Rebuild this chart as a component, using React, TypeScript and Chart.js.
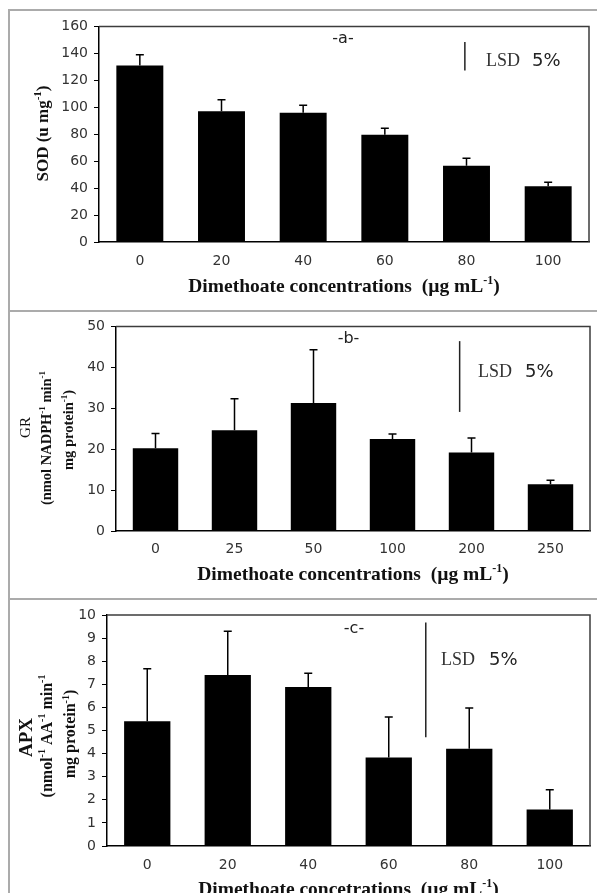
import React, { useEffect, useRef } from "react";
import { Chart, registerables } from "chart.js";

Chart.register(...registerables);

// ---------- data ----------
const sodLabels = ["0", "20", "40", "60", "80", "100"];
const sodValues = [131, 97, 96, 79.5, 56.5, 41.3];
const sodErrors = [8, 8.5, 5.5, 5, 5.7, 3];
const sodLsd = [127.3, 148.4];

const grLabels = ["0", "25", "50", "100", "200", "250"];
const grValues = [20.2, 24.6, 31.3, 22.5, 19.2, 11.4];
const grErrors = [3.6, 7.7, 13, 1.2, 3.5, 1];
const grLsd = [29.1, 46.4];

const apxLabels = ["0", "20", "40", "60", "80", "100"];
const apxValues = [5.4, 7.4, 6.88, 3.83, 4.21, 1.58];
const apxErrors = [2.27, 1.9, 0.6, 1.75, 1.76, 0.85];
const apxLsd = [4.71, 9.67];

// ---------- layout ----------
type Rect = { left: number; top: number; width: number; height: number };
type Area = { left: number; top: number; right: number; bottom: number };
type TitleLine = { text: string; x: number; y: number; size: number; bold: boolean };

interface Panel {
  labels: string[];
  values: number[];
  errors: number[];
  lsd: number[];
  lsdAt: number;
  yMax: number;
  yStep: number;
  canvas: Rect;
  area: Area;
  xLabelPad: number;
  tag: { text: string; x: number; y: number };
  lsdText: { lsdX: number; pctX: number; y: number };
  yTitle: TitleLine[];
  xTitle: { text: string; y: number; size: number };
}

const SERIF = "'Liberation Serif', 'Times New Roman', serif";
const SANS = "'DejaVu Sans', Verdana, sans-serif";

const panels: Panel[] = [
  {
    labels: sodLabels,
    values: sodValues,
    errors: sodErrors,
    lsd: sodLsd,
    lsdAt: 3.98,
    yMax: 160,
    yStep: 20,
    canvas: { left: 10, top: 12, width: 587, height: 298 },
    area: { left: 99, top: 25, right: 589, bottom: 242 },
    xLabelPad: 11,
    tag: { text: "-a-", x: 343, y: 38 },
    lsdText: { lsdX: 486, pctX: 532, y: 60 },
    yTitle: [{ text: "SOD (u mg^{-1})", x: 42, y: 133.5, size: 17, bold: true }],
    xTitle: { text: "Dimethoate concentrations  (\u00b5g mL^{-1})", y: 285, size: 19.5 },
  },
  {
    labels: grLabels,
    values: grValues,
    errors: grErrors,
    lsd: grLsd,
    lsdAt: 3.85,
    yMax: 50,
    yStep: 10,
    canvas: { left: 10, top: 312, width: 587, height: 286 },
    area: { left: 116, top: 326, right: 590, bottom: 531 },
    xLabelPad: 10,
    tag: { text: "-b-", x: 348.5, y: 338 },
    lsdText: { lsdX: 478, pctX: 525, y: 371 },
    yTitle: [
      { text: "GR", x: 25, y: 427.5, size: 15, bold: false },
      { text: "(nmol NADPH^{-1} min^{-1}", x: 46, y: 438, size: 14.5, bold: true },
      { text: "mg protein^{-1})", x: 68, y: 430, size: 14.5, bold: true },
    ],
    xTitle: { text: "Dimethoate concentrations  (\u00b5g mL^{-1})", y: 573, size: 19.5 },
  },
  {
    labels: apxLabels,
    values: apxValues,
    errors: apxErrors,
    lsd: apxLsd,
    lsdAt: 3.46,
    yMax: 10,
    yStep: 1,
    canvas: { left: 10, top: 600, width: 587, height: 293 },
    area: { left: 107, top: 615, right: 590, bottom: 846 },
    xLabelPad: 11,
    tag: { text: "-c-", x: 354, y: 628 },
    lsdText: { lsdX: 441, pctX: 489, y: 659 },
    yTitle: [
      { text: "APX", x: 25, y: 737.5, size: 19, bold: true },
      { text: "(nmol^{-1} AA^{-1} min^{-1}", x: 46, y: 736, size: 16, bold: true },
      { text: "mg protein^{-1})", x: 69.5, y: 734, size: 16, bold: true },
    ],
    xTitle: { text: "Dimethoate concetrations  (\u00b5g mL^{-1})", y: 888, size: 19.5 },
  },
];

// ---------- rich text helper ----------
function parseRich(s: string): [string, boolean][] {
  const out: [string, boolean][] = [];
  const re = /\^\{([^}]*)\}/g;
  let last = 0;
  let m: RegExpExecArray | null;
  while ((m = re.exec(s))) {
    if (m.index > last) out.push([s.slice(last, m.index), false]);
    out.push([m[1], true]);
    last = re.lastIndex;
  }
  if (last < s.length) out.push([s.slice(last), false]);
  return out;
}

function drawRich(
  ctx: CanvasRenderingContext2D,
  s: string,
  cx: number,
  cy: number,
  size: number,
  weight: string,
  family: string,
  color: string,
  rotate: boolean,
  align: "center" | "left" = "center",
  capRatio = 0.35
) {
  const segs = parseRich(s);
  ctx.save();
  ctx.translate(cx, cy);
  if (rotate) ctx.rotate(-Math.PI / 2);
  ctx.fillStyle = color;
  ctx.textBaseline = "alphabetic";
  ctx.textAlign = "left";
  const fontFor = (sup: boolean) => `${weight} ${sup ? Math.round(size * 0.62) : size}px ${family}`;
  let total = 0;
  segs.forEach(([t, sup]) => {
    ctx.font = fontFor(sup);
    total += ctx.measureText(t).width;
  });
  let x = align === "center" ? -total / 2 : 0;
  const base = size * capRatio;
  segs.forEach(([t, sup]) => {
    ctx.font = fontFor(sup);
    ctx.fillText(t, x, sup ? base - size * 0.4 : base);
    x += ctx.measureText(t).width;
  });
  ctx.restore();
}

function makeDecor(p: Panel) {
  return {
    id: "decor",
    afterDatasetsDraw(chart: any) {
      const ctx: CanvasRenderingContext2D = chart.ctx;
      const ca = chart.chartArea;
      const xs = chart.scales.x;
      const ys = chart.scales.y;
      const ox = p.canvas.left;
      const oy = p.canvas.top;
      ctx.save();
      // plot frame (top & right)
      ctx.strokeStyle = "#3c3c3c";
      ctx.lineWidth = 1.5;
      ctx.beginPath();
      ctx.moveTo(ca.left, ca.top);
      ctx.lineTo(ca.right, ca.top);
      ctx.lineTo(ca.right, ca.bottom);
      ctx.stroke();

      // error bars
      const meta = chart.getDatasetMeta(0);
      ctx.strokeStyle = "#000";
      ctx.lineWidth = 1.5;
      meta.data.forEach((bar: any, i: number) => {
        const x = bar.x;
        const y0 = ys.getPixelForValue(p.values[i]);
        const y1 = ys.getPixelForValue(p.values[i] + p.errors[i]);
        ctx.beginPath();
        ctx.moveTo(x, y0);
        ctx.lineTo(x, y1);
        ctx.moveTo(x - 4, y1);
        ctx.lineTo(x + 4, y1);
        ctx.stroke();
      });

      // LSD bar
      const lx = xs.getPixelForValue(p.lsdAt);
      ctx.strokeStyle = "#222";
      ctx.lineWidth = 1.5;
      ctx.beginPath();
      ctx.moveTo(lx, ys.getPixelForValue(p.lsd[0]));
      ctx.lineTo(lx, ys.getPixelForValue(p.lsd[1]));
      ctx.stroke();
      ctx.restore();

      // texts
      drawRich(ctx, p.tag.text, p.tag.x - ox, p.tag.y - oy, 16, "normal", SANS, "#222", false, "center", 0.3);
      drawRich(ctx, "LSD", p.lsdText.lsdX - ox, p.lsdText.y - oy, 18, "normal", SERIF, "#333", false, "left");
      drawRich(ctx, "5%", p.lsdText.pctX - ox, p.lsdText.y - oy, 18, "normal", SANS, "#222", false, "left");
      p.yTitle.forEach((t) => {
        drawRich(ctx, t.text, t.x - ox, t.y - oy, t.size, t.bold ? "bold" : "normal", SERIF, "#111", true);
      });
      drawRich(ctx, p.xTitle.text, (ca.left + ca.right) / 2, p.xTitle.y - oy, p.xTitle.size, "bold", SERIF, "#111", false);
    },
  };
}

function PanelChart({ p }: { p: Panel }) {
  const ref = useRef<HTMLCanvasElement>(null);
  useEffect(() => {
    const tickFont = { family: SANS, size: 14 };
    const chart = new Chart(ref.current as HTMLCanvasElement, {
      type: "bar",
      data: {
        labels: p.labels,
        datasets: [
          {
            data: p.values,
            backgroundColor: "#000",
            borderWidth: 0,
            barPercentage: 0.575,
            categoryPercentage: 1,
          },
        ],
      },
      options: {
        animation: false,
        responsive: false,
        devicePixelRatio: 1,
        layout: {
          padding: {
            top: p.area.top - p.canvas.top,
            right: p.canvas.left + p.canvas.width - p.area.right,
            left: 0,
            bottom: 0,
          },
        },
        plugins: {
          legend: { display: false },
          tooltip: { enabled: false },
          title: { display: false },
        },
        scales: {
          x: {
            type: "category",
            offset: true,
            grid: { display: true, drawOnChartArea: false, drawTicks: false },
            border: { display: true, color: "#000", width: 1.5 },
            ticks: {
              font: tickFont,
              color: "#333",
              padding: p.xLabelPad,
              maxRotation: 0,
              autoSkip: false,
            },
            afterFit: (s: any) => {
              s.height = p.canvas.top + p.canvas.height - p.area.bottom;
            },
          },
          y: {
            min: 0,
            max: p.yMax,
            ticks: { stepSize: p.yStep, font: tickFont, color: "#333", padding: 6 },
            grid: { drawOnChartArea: false, drawTicks: true, tickLength: 5, color: "#000", lineWidth: 1 },
            border: { display: true, color: "#000", width: 1.5 },
            afterFit: (s: any) => {
              s.width = p.area.left - p.canvas.left;
            },
          },
        },
      } as any,
      plugins: [makeDecor(p)],
    });
    return () => chart.destroy();
  }, [p]);
  return (
    <canvas
      ref={ref}
      width={p.canvas.width}
      height={p.canvas.height}
      style={{
        position: "absolute",
        left: p.canvas.left,
        top: p.canvas.top,
        width: p.canvas.width,
        height: p.canvas.height,
      }}
    />
  );
}

const lineColor = "#ababab";

export default function App() {
  return (
    <div
      style={{
        position: "absolute",
        left: 0,
        top: 0,
        width: 597,
        height: 893,
        overflow: "hidden",
        background: "#fff",
      }}
    >
      {panels.map((p, i) => (
        <PanelChart key={i} p={p} />
      ))}
      <div style={{ position: "absolute", left: 8, top: 9, width: 2, height: 884, background: lineColor }} />
      <div style={{ position: "absolute", left: 8, top: 9, width: 589, height: 2, background: lineColor }} />
      <div style={{ position: "absolute", left: 8, top: 310, width: 589, height: 2, background: lineColor }} />
      <div style={{ position: "absolute", left: 8, top: 598, width: 589, height: 2, background: lineColor }} />
    </div>
  );
}
